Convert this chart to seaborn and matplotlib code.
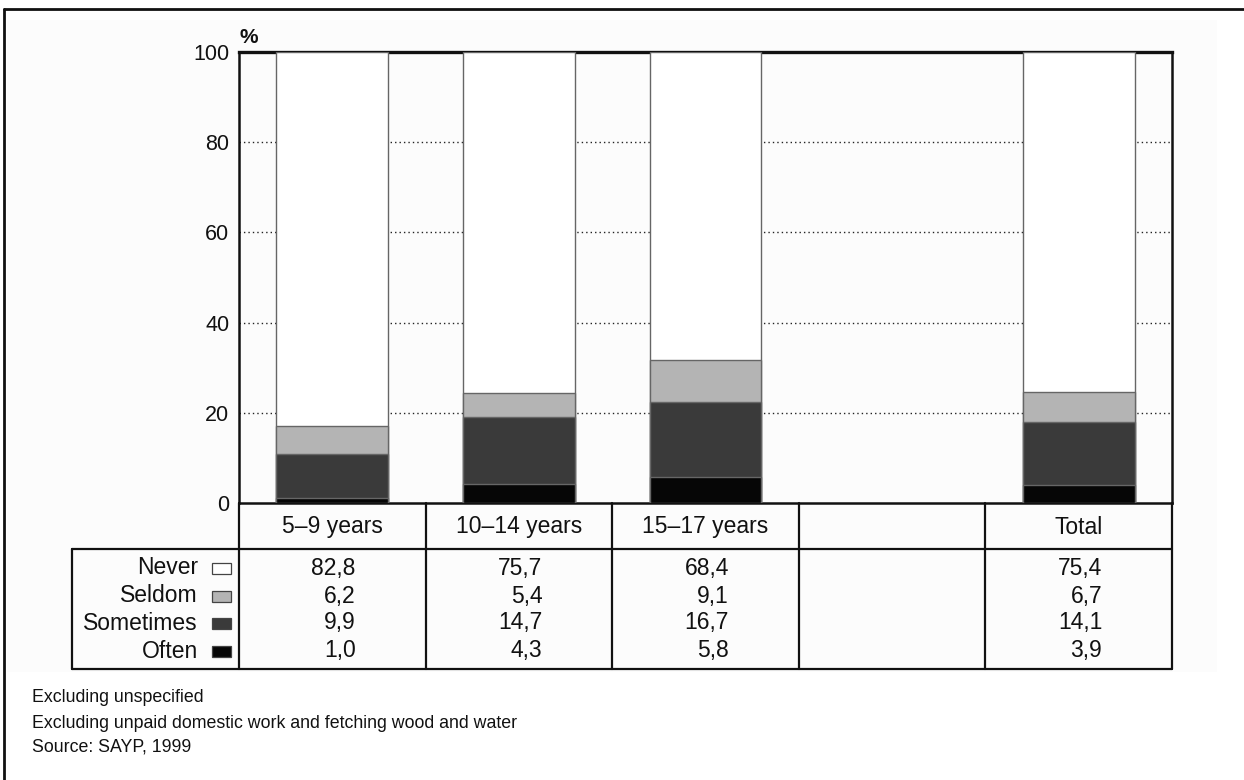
import numpy as np
import pandas as pd
import seaborn as sns
import matplotlib
matplotlib.use("Agg")
import matplotlib.pyplot as plt
from matplotlib.lines import Line2D
from matplotlib.patches import Rectangle
from matplotlib.transforms import blended_transform_factory, offset_copy

# ---- data -------------------------------------------------------------
categories = ["5–9 years", "10–14 years", "15–17 years", "", "Total"]
never = [82.8, 75.7, 68.4, np.nan, 75.4]
seldom = [6.2, 5.4, 9.1, np.nan, 6.7]
sometimes = [9.9, 14.7, 16.7, np.nan, 14.1]
often = [1.0, 4.3, 5.8, np.nan, 3.9]
value_labels = {
    "Never": ["82,8", "75,7", "68,4", "", "75,4"],
    "Seldom": ["6,2", "5,4", "9,1", "", "6,7"],
    "Sometimes": ["9,9", "14,7", "16,7", "", "14,1"],
    "Often": ["1,0", "4,3", "5,8", "", "3,9"],
}
series = ["Never", "Seldom", "Sometimes", "Often"]
yticks = [0, 20, 40, 60, 80, 100]
footnotes = [
    "Excluding unspecified",
    "Excluding unpaid domestic work and fetching wood and water",
    "Source: SAYP, 1999",
]

colors = {"Never": "#ffffff", "Seldom": "#b4b4b4", "Sometimes": "#3a3a3a", "Often": "#060606"}

# ---- figure setup -----------------------------------------------------
sns.set_theme(style="white")
plt.rcParams["font.family"] = ["Liberation Sans", "DejaVu Sans"]

W, H = 1244, 780
fig = plt.figure(figsize=(W / 100, H / 100), dpi=100)
fig.patch.set_facecolor("white")


def fx(x):
    return x / W


def fy(y):
    return 1 - y / H


# faint page area and the cropped frame
fig.add_artist(Rectangle((fx(7), fy(672)), fx(1217) - fx(7), fy(20) - fy(672),
                         transform=fig.transFigure, facecolor="#fcfcfc",
                         edgecolor="none", zorder=-5))
fig.add_artist(Line2D([fx(4), fx(1244)], [fy(9), fy(9)], transform=fig.transFigure,
                      color="#111111", lw=2.0))
fig.add_artist(Line2D([fx(4), fx(4)], [fy(9), fy(780)], transform=fig.transFigure,
                      color="#111111", lw=2.0))

ax_left, ax_right, ax_top, ax_bottom = 239, 1172, 52, 503
ax = fig.add_axes([fx(ax_left), fy(ax_bottom), fx(ax_right) - fx(ax_left),
                   fy(ax_top) - fy(ax_bottom)])
ax.set_facecolor("none")

df = pd.DataFrame({"category": categories, "Never": never, "Seldom": seldom,
                   "Sometimes": sometimes, "Often": often})
# cumulative heights, drawn from the top segment down so lower ones overlay
df["c_often"] = df["Often"]
df["c_sometimes"] = df["c_often"] + df["Sometimes"]
df["c_seldom"] = df["c_sometimes"] + df["Seldom"]
df["c_never"] = df["c_seldom"] + df["Never"]

for col, name in [("c_never", "Never"), ("c_seldom", "Seldom"),
                  ("c_sometimes", "Sometimes"), ("c_often", "Often")]:
    sns.barplot(data=df, x="category", y=col, order=categories, ax=ax,
                color=colors[name], saturation=1, width=0.6,
                edgecolor="#666666", linewidth=1.0, errorbar=None, zorder=3)

ax.set_xlim(-0.5, len(categories) - 0.5)
ax.set_ylim(0, 100)
ax.set_yticks(yticks)
ax.set_yticklabels([str(t) for t in yticks], fontsize=15.5, color="#111111")
ax.tick_params(axis="y", length=0, pad=7)
ax.set_xticks([])
ax.set_xlabel("")
ax.set_ylabel("")
for t in yticks[1:-1]:
    ax.axhline(t, color="#222222", lw=1.0, linestyle=(0, (1, 2.2)), zorder=1)
for side in ["left", "right", "top", "bottom"]:
    ax.spines[side].set_visible(True)
    ax.spines[side].set_color("#111111")
    ax.spines[side].set_linewidth(1.8)
ax.spines["top"].set_linewidth(2.4)

ax.text(0.0, 1.01, "%", transform=ax.transAxes, fontsize=15, fontweight="bold",
        ha="left", va="bottom", color="#111111")

# ---- table under the chart --------------------------------------------
tr = blended_transform_factory(ax.transData, fig.transFigure)
line_kw = dict(color="#111111", lw=1.6, zorder=5)
header_bottom, table_bottom, table_left = 549, 669, 72
n = len(categories)
bounds = [i - 0.5 for i in range(n + 1)]

# header row box
fig.add_artist(Line2D([-0.5, n - 0.5], [fy(header_bottom)] * 2, transform=tr, **line_kw))
for b in bounds:
    fig.add_artist(Line2D([b, b], [fy(ax_bottom), fy(table_bottom)], transform=tr, **line_kw))
# data block
fig.add_artist(Line2D([fx(table_left), fx(ax_left)], [fy(header_bottom)] * 2,
                      transform=fig.transFigure, **line_kw))
fig.add_artist(Line2D([fx(table_left), fx(ax_right)], [fy(table_bottom)] * 2,
                      transform=fig.transFigure, **line_kw))
fig.add_artist(Line2D([fx(table_left)] * 2, [fy(header_bottom), fy(table_bottom)],
                      transform=fig.transFigure, **line_kw))

txt_kw = dict(fontsize=16.5, color="#111111")
for i, cat in enumerate(categories):
    fig.text(i, fy(527), cat, transform=tr, ha="center", va="center", **txt_kw)

row_y = [568, 596, 623, 651]
tr_val = offset_copy(tr, fig=fig, x=23.5 * 0.72, y=0, units="points")
for r, name in enumerate(series):
    y = fy(row_y[r])
    fig.text(fx(198), y, name, transform=fig.transFigure, ha="right", va="center", **txt_kw)
    fig.add_artist(Rectangle((fx(212), y - 5.5 / H), 19 / W, 11 / H,
                             transform=fig.transFigure, facecolor=colors[name],
                             edgecolor="#444444", lw=0.9, zorder=5))
    for i, lab in enumerate(value_labels[name]):
        if lab:
            fig.text(i, y, lab, transform=tr_val, ha="right", va="center", **txt_kw)

for k, note in enumerate(footnotes):
    fig.text(fx(32), fy([698, 723, 747][k]), note, transform=fig.transFigure,
             ha="left", va="center", fontsize=12.8, color="#111111")

fig.savefig("out.png", dpi=100, facecolor="white")
